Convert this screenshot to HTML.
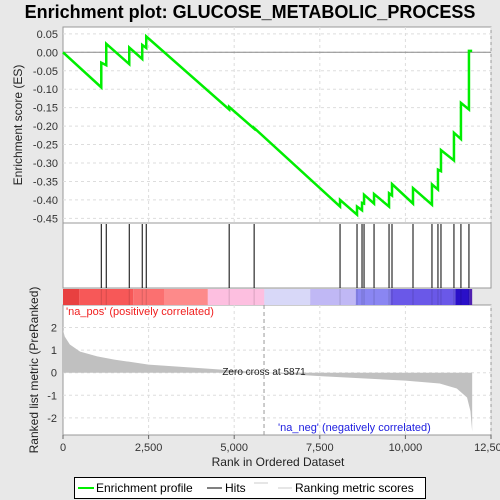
<!DOCTYPE html>
<html><head><meta charset="utf-8"><style>
body{margin:0;background:#e8e8e8;font-family:"Liberation Sans",sans-serif}
svg{display:block}
</style></head><body>
<svg id="c" width="500" height="500" xmlns="http://www.w3.org/2000/svg">
<rect width="500" height="500" fill="#e8e8e8"/>
<text x="250" y="18" text-anchor="middle" font-size="18" font-weight="bold" fill="#000">Enrichment plot: GLUCOSE_METABOLIC_PROCESS</text>
</svg>
<script>
const hitRanks=[1118,1263,1935,2314,2431,4853,5582,8091,8587,8733,8792,9084,9522,9609,10222,10776,10951,11039,11418,11622,11856];
const esBefore=[-0.095,-0.035,-0.032,-0.018,0.012,-0.155,-0.207,-0.418,-0.440,-0.428,-0.410,-0.410,-0.418,-0.388,-0.410,-0.413,-0.372,-0.322,-0.293,-0.235,-0.155];
const esAfter=[-0.028,0.023,0.013,0.020,0.043,-0.148,-0.205,-0.400,-0.418,-0.408,-0.386,-0.384,-0.382,-0.357,-0.368,-0.358,-0.318,-0.265,-0.218,-0.137,0.004];
const esTicks=[0.05,0,-0.05,-0.1,-0.15,-0.2,-0.25,-0.3,-0.35,-0.4,-0.45];
const metricRanks=[0,50,200,500,1000,1500,2500,4000,5000,5871,7500,10000,11000,11500,11800,11900,11950];
const metricVals=[1.9,1.6,1.25,0.93,0.72,0.58,0.36,0.2,0.1,0,-0.15,-0.35,-0.48,-0.7,-1.1,-1.7,-2.6];
const metricTicks=[2,1,0,-1,-2];
const xTicks=[0,2500,5000,7500,10000,12500];
const xTickLabels=["0","2,500","5,000","7,500","10,000","12,500"];
const NS="http://www.w3.org/2000/svg",svg=document.getElementById('c');
const L=63,R=491,N=12500;
const X=r=>L+(r/N)*(R-L);
const YE=v=>52.3-v*369;
const YM=v=>372.7-v*22.6;
function el(t,a,p){const e=document.createElementNS(NS,t);for(const k in a)e.setAttribute(k,a[k]);(p||svg).appendChild(e);return e;}
let p=el('rect',{x:L,y:27,width:R-L,height:196,fill:'#fff',stroke:'#999'});

p=el('rect',{x:L,y:223,width:R-L,height:65,fill:'#fff',stroke:'#999'});

p=el('rect',{x:L,y:305,width:R-L,height:130,fill:'#fff',stroke:'#999'});

xTicks.forEach((t,i)=>{if(i==0)return;
 el('line',{x1:X(t),x2:X(t),y1:27,y2:223,stroke:'#ddd','stroke-dasharray':'3,3'});
 el('line',{x1:X(t),x2:X(t),y1:305,y2:435,stroke:'#ddd','stroke-dasharray':'3,3'});});
esTicks.forEach(t=>{el('line',{x1:L,x2:R,y1:YE(t),y2:YE(t),stroke:'#ddd','stroke-dasharray':'3,3'});
 const tx=el('text',{x:58,y:YE(t)+4,'text-anchor':'end','font-size':11,fill:'#333'});tx.textContent=t.toFixed(2);
 });
el('line',{x1:L,x2:R,y1:YE(0),y2:YE(0),stroke:'#888'});
metricTicks.forEach(t=>{el('line',{x1:L,x2:R,y1:YM(t),y2:YM(t),stroke:'#ddd','stroke-dasharray':'3,3'});
 const tx=el('text',{x:57,y:YM(t)+4,'text-anchor':'end','font-size':11,fill:'#333'});tx.textContent=t;
 });
const segs=[[0,470,'#e84040'],[470,2050,'#f75858'],[2050,2950,'#fb7070'],[2950,4230,'#fd8a8a'],[4230,5880,'#fdbfe0'],[5880,7220,'#d8d8f8'],[7220,8550,'#c0b8f5'],[8550,9560,'#8a86f2'],[9560,11460,'#6a58e8'],[11460,11880,'#2a10c8'],[11880,11950,'#5020b0']];
segs.forEach(s=>{const r=el('rect',{x:X(s[0]),y:289,width:X(s[1])-X(s[0]),height:16,fill:s[2]});
 });
hitRanks.forEach(h=>{const l=el('line',{x1:X(h),x2:X(h),y1:224,y2:288,stroke:'#000','stroke-width':1});
 
 el('line',{x1:X(h),x2:X(h),y1:289,y2:305,stroke:'rgba(0,0,0,0.15)'});});
let d='M'+X(metricRanks[0])+','+YM(0);
metricRanks.forEach((r,i)=>d+=' L'+X(r)+','+YM(metricVals[i]));
d+=' L'+X(metricRanks[metricRanks.length-1])+','+YM(0)+'Z';
p=el('path',{d:d,fill:'#c0c0c0'});
el('line',{x1:X(5871),x2:X(5871),y1:305,y2:435,stroke:'#999','stroke-dasharray':'4,3'});
let t=el('text',{x:264,y:375,'text-anchor':'middle','font-size':10,fill:'#222'});t.textContent='Zero cross at 5871';

t=el('text',{x:66,y:315,'font-size':11,fill:'#f02020'});t.textContent="'na_pos' (positively correlated)";

t=el('text',{x:278,y:431,'font-size':11,fill:'#2020e0'});t.textContent="'na_neg' (negatively correlated)";

let pts=[[0,0]];hitRanks.forEach((h,i)=>{pts.push([h,esBefore[i]]);pts.push([h,esAfter[i]]);});
pts.push([11950,esAfter[esAfter.length-1]]);
p=el('polyline',{points:pts.map(q=>X(q[0])+','+YE(q[1])).join(' '),fill:'none',stroke:'#00ee00','stroke-width':2.5});

xTicks.forEach((tk,i)=>{el('line',{x1:X(tk),x2:X(tk),y1:435,y2:439,stroke:'#666'});
 const tx=el('text',{x:X(tk),y:451,'text-anchor':'middle','font-size':11,fill:'#333'});tx.textContent=xTickLabels[i];
 });
t=el('text',{x:278,y:466,'text-anchor':'middle','font-size':12,fill:'#222'});t.textContent='Rank in Ordered Dataset';

t=el('text',{x:0,y:0,'text-anchor':'middle','font-size':12,fill:'#222',transform:'translate(22,125) rotate(-90)'});t.textContent='Enrichment score (ES)';

t=el('text',{x:0,y:0,'text-anchor':'middle','font-size':12,fill:'#222',transform:'translate(38,370) rotate(-90)'});t.textContent='Ranked list metric (PreRanked)';

const g=el('g',{});
el('rect',{x:74.5,y:477.5,width:351,height:21,fill:'#fff',stroke:'#000'},g);
el('line',{x1:78,x2:94,y1:488,y2:488,stroke:'#00ee00','stroke-width':2},g);
t=el('text',{x:96,y:492,'font-size':12,fill:'#000'},g);t.textContent='Enrichment profile';

el('line',{x1:207,x2:222,y1:488,y2:488,stroke:'#000'},g);
t=el('text',{x:225,y:492,'font-size':12,fill:'#000'},g);t.textContent='Hits';

el('line',{x1:254,x2:268,y1:483,y2:483,stroke:'#ccc'},g);
el('line',{x1:278,x2:292,y1:488,y2:488,stroke:'#ccc'},g);
t=el('text',{x:295,y:492,'font-size':12,fill:'#000'},g);t.textContent='Ranking metric scores';

</script>
</body></html>
